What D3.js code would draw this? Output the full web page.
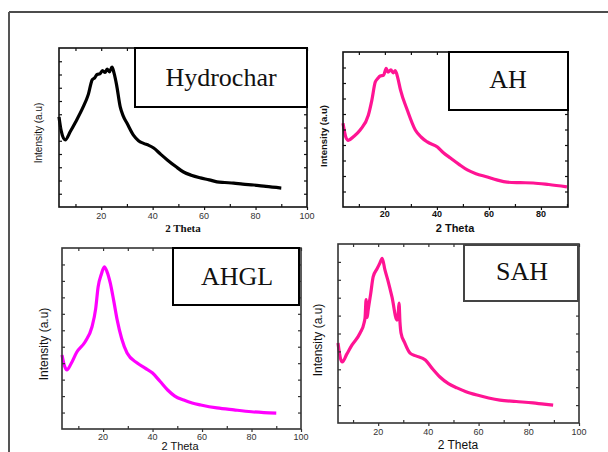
<!DOCTYPE html>
<html>
<head>
<meta charset="utf-8">
<script src="https://cdn.jsdelivr.net/npm/d3@7"></script>
<style>
  body { margin: 0; background: #fff; }
  svg { display: block; }
</style>
</head>
<body>
<script>
// values (2 theta, intensity in a.u.)
var hydrocharTheta = [3.6, 4.5, 6, 8, 10, 13, 15, 16.5, 17.5, 18.4, 19.5, 20.5, 21.5, 22.3, 23.2, 24.2, 25, 26, 27.4, 28.5, 30.1, 32.6, 34.5, 36.5, 38.5, 40.4, 43, 45.7, 49, 52, 55, 58.6, 62, 65, 68, 71.5, 75, 79.3, 84, 90];
var hydrocharInt   = [6.8, 5.7, 5.06, 5.7, 6.4, 7.55, 8.5, 9.6, 9.75, 10.0, 10.05, 10.3, 10.15, 10.4, 10.2, 10.55, 10.1, 9.2, 7.55, 6.9, 6.3, 5.4, 5.0, 4.8, 4.65, 4.45, 4.0, 3.55, 3.05, 2.64, 2.4, 2.2, 2.05, 1.9, 1.85, 1.8, 1.72, 1.66, 1.55, 1.43];

var ahTheta = [3.9, 5, 5.9, 8, 10.5, 13.6, 15, 16.3, 17.3, 18.2, 19.5, 20.5, 21.2, 22.3, 23.2, 24, 25, 26, 28.6, 31.7, 34, 36.3, 40.2, 42.5, 45.2, 48.5, 51.7, 55, 59.4, 63, 67, 72, 77, 83, 90];
var ahInt   = [5.4, 4.5, 4.3, 4.55, 4.97, 5.9, 6.9, 8.06, 8.3, 8.45, 8.5, 8.95, 8.7, 8.85, 8.65, 8.8, 8.3, 7.55, 6.26, 4.97, 4.5, 4.2, 3.87, 3.5, 3.16, 2.75, 2.39, 2.15, 1.94, 1.75, 1.6, 1.57, 1.55, 1.45, 1.3];

var ahglTheta = [3.4, 4.5, 5.4, 7, 9.4, 12.7, 15.5, 17, 18, 19.3, 20.5, 21.5, 22.9, 24.3, 25.7, 27.5, 29.7, 33.8, 37, 40, 43, 46.1, 49, 52.6, 56, 59.5, 66, 72.9, 80, 85, 90];
var ahglInt   = [4.5, 3.8, 3.59, 3.95, 4.68, 5.29, 6.2, 7.3, 8.63, 9.4, 9.85, 9.6, 8.88, 7.8, 6.63, 5.5, 4.62, 4.01, 3.7, 3.4, 2.9, 2.37, 2.0, 1.76, 1.58, 1.46, 1.28, 1.16, 1.05, 1.0, 0.97];

var sahTheta = [4, 5, 5.7, 7.5, 9.6, 12.8, 14.4, 14.8, 15.2, 15.6, 16, 17, 18, 19.5, 20.7, 21.6, 22.7, 24, 25.5, 27.5, 28, 28.3, 28.7, 29.1, 30.5, 32.7, 35, 38.8, 41.5, 44.6, 48, 51.4, 55, 59.4, 64, 68.5, 75, 81.7, 86, 89.7];
var sahInt   = [4.47, 3.6, 3.41, 3.85, 4.36, 5.03, 5.6, 5.92, 6.9, 5.9, 6.3, 7.2, 8.16, 8.6, 8.94, 9.2, 8.55, 7.9, 7.04, 5.75, 6.1, 6.7, 5.6, 5.03, 4.5, 3.9, 3.75, 3.52, 3.05, 2.57, 2.2, 1.96, 1.75, 1.56, 1.4, 1.28, 1.2, 1.12, 1.05, 1.0];

var xMajor = [20, 40, 60, 80, 100];
var xMinor = [10, 30, 50, 70, 90];
var legendNames = ["Hydrochar", "AH", "AHGL", "SAH"];
var yTitle = "Intensity (a.u)";
var xTitle = "2 Theta";

var panels = [
  { name: legendNames[0], theta: hydrocharTheta, val: hydrocharInt, color: "#000",
    l: 59, t: 48, r: 307, b: 207, x0: 3.6, x1: 100, yMax: 12, frame: "#111",
    box: [135, 48, 172, 59], boxStroke: "#000", lx: 221, ly: 86,
    tickFont: "400 9px Arial, 'Liberation Sans'", tickFill: "#333", tickY: 219,
    yt: { x: 38, y: 133, font: "400 10px Arial, 'Liberation Sans'" },
    xt: { x: 183, y: 232, font: "700 11px 'Times New Roman', 'Liberation Serif'" } },
  { name: legendNames[1], theta: ahTheta, val: ahInt, color: "#ff1493",
    l: 343, t: 52, r: 568, b: 207, x0: 3.9, x1: 90.4, yMax: 10, frame: "#111",
    box: [449, 52, 119, 58], boxStroke: "#000", lx: 508, ly: 88,
    tickFont: "700 9px Arial, 'Liberation Sans'", tickFill: "#111", tickY: 217,
    yt: { x: 324, y: 136, font: "700 9.5px Arial, 'Liberation Sans'" },
    xt: { x: 455, y: 232, font: "700 11px Arial, 'Liberation Sans'" } },
  { name: legendNames[2], theta: ahglTheta, val: ahglInt, color: "#ff00ff",
    l: 62, t: 248, r: 301, b: 429, x0: 3.4, x1: 100, yMax: 11, frame: "#333",
    box: [173, 248, 126, 57], boxStroke: "#000", lx: 237, ly: 285,
    tickFont: "400 9px Arial, 'Liberation Sans'", tickFill: "#333", tickY: 440,
    yt: { x: 44, y: 344, font: "400 12px Arial, 'Liberation Sans'" },
    xt: { x: 180, y: 450, font: "400 11px Arial, 'Liberation Sans'" } },
  { name: legendNames[3], theta: sahTheta, val: sahInt, color: "#ff1493",
    l: 338, t: 244, r: 579, b: 423, x0: 4, x1: 100, yMax: 10, frame: "#333",
    box: [464, 245, 114, 56], boxStroke: "#444", lx: 522, ly: 280,
    tickFont: "400 9px Arial, 'Liberation Sans'", tickFill: "#333", tickY: 435,
    yt: { x: 318, y: 340, font: "400 12px Arial, 'Liberation Sans'" },
    xt: { x: 458, y: 449, font: "400 12px Arial, 'Liberation Sans'" } }
];

var svg = d3.select("body").append("svg")
  .attr("width", 608)
  .attr("height", 452);

svg.append("rect").attr("width", 608).attr("height", 452).attr("fill", "#fff");

// outer page frame
svg.append("line").attr("x1", 9).attr("x2", 608).attr("y1", 12).attr("y2", 12)
  .attr("stroke", "#111").attr("stroke-width", 1.5);
svg.append("line").attr("x1", 9).attr("x2", 9).attr("y1", 12).attr("y2", 452)
  .attr("stroke", "#555").attr("stroke-width", 2);

function drawPanel(p) {
  var x = d3.scaleLinear().domain([p.x0, p.x1]).range([p.l, p.r]);
  var y = d3.scaleLinear().domain([0, p.yMax]).range([p.b, p.t]);
  var g = svg.append("g");

  var inDom = function(v) { return v >= p.x0 && v <= p.x1 + 0.01; };
  var major = xMajor.filter(inDom), minor = xMinor.filter(inDom);
  var yTicks = d3.range(1, p.yMax);

  var line = d3.line()
    .x(function(d) { return x(d[0]); })
    .y(function(d) { return y(d[1]); })
    .curve(d3.curveMonotoneX);

  g.append("path")
    .datum(d3.zip(p.theta, p.val))
    .attr("d", line)
    .attr("fill", "none")
    .attr("stroke", p.color)
    .attr("stroke-width", 3.2)
    .attr("stroke-linejoin", "round");

  // axes: major ticks out at the bottom, minor ticks in, mirrored ticks top and right
  var bottom = g.append("g").attr("transform", "translate(0," + p.b + ")")
    .call(d3.axisBottom(x).tickValues(major).tickSize(3).tickPadding(2));
  bottom.selectAll("text").remove();
  g.append("g").attr("transform", "translate(0," + p.b + ")")
    .call(d3.axisBottom(x).tickValues(minor).tickSize(-3).tickFormat(""));
  g.append("g").attr("transform", "translate(0," + p.t + ")")
    .call(d3.axisTop(x).tickValues(major.concat(minor)).tickSize(-3).tickFormat(""));
  g.append("g").attr("transform", "translate(" + p.l + ",0)")
    .call(d3.axisLeft(y).tickValues(yTicks).tickSize(-3).tickFormat(""));
  g.append("g").attr("transform", "translate(" + p.r + ",0)")
    .call(d3.axisRight(y).tickValues(yTicks).tickSize(-3).tickFormat(""));
  g.selectAll(".domain").remove();
  g.selectAll(".tick line").attr("stroke", p.frame).attr("stroke-width", 1.2);

  g.selectAll(".xlab")
    .data(major)
    .enter().append("text")
    .attr("x", function(d) { return x(d); })
    .attr("y", p.tickY)
    .attr("text-anchor", "middle")
    .style("font", p.tickFont)
    .attr("fill", p.tickFill)
    .text(function(d) { return d; });

  g.append("rect")
    .attr("x", p.l).attr("y", p.t)
    .attr("width", p.r - p.l).attr("height", p.b - p.t)
    .attr("fill", "none")
    .attr("stroke", p.frame)
    .attr("stroke-width", 1.6);

  // legend box
  g.append("rect")
    .attr("x", p.box[0]).attr("y", p.box[1])
    .attr("width", p.box[2]).attr("height", p.box[3])
    .attr("fill", "#fff")
    .attr("stroke", p.boxStroke)
    .attr("stroke-width", 2);
  g.append("text")
    .attr("x", p.lx).attr("y", p.ly)
    .attr("text-anchor", "middle")
    .style("font", "400 26px 'Times New Roman', 'Liberation Serif'")
    .attr("fill", "#111")
    .text(p.name);

  g.append("text")
    .attr("transform", "translate(" + p.yt.x + "," + p.yt.y + ") rotate(-90)")
    .attr("text-anchor", "middle")
    .attr("dy", "0.35em")
    .style("font", p.yt.font)
    .attr("fill", "#111")
    .text(yTitle);

  g.append("text")
    .attr("x", p.xt.x).attr("y", p.xt.y)
    .attr("text-anchor", "middle")
    .style("font", p.xt.font)
    .attr("fill", "#111")
    .text(xTitle);
}

panels.forEach(drawPanel);
</script>
</body>
</html>
